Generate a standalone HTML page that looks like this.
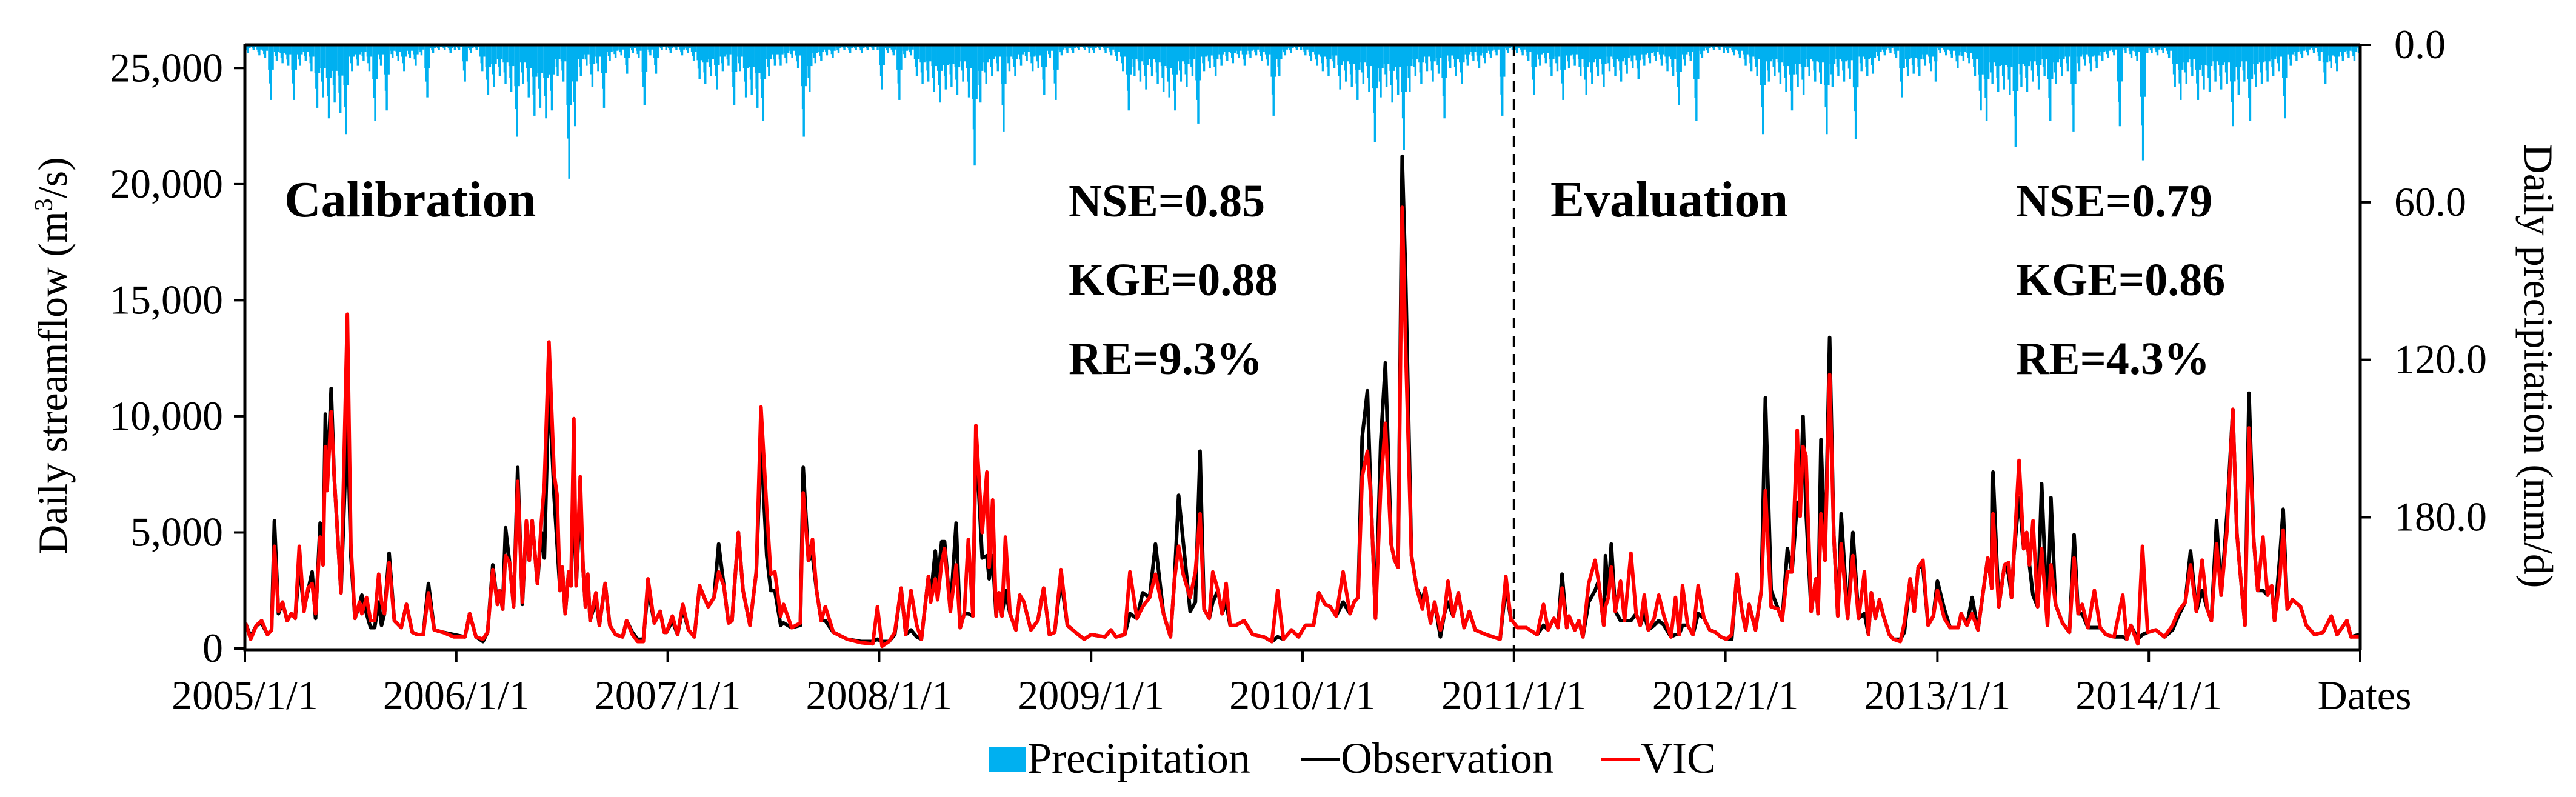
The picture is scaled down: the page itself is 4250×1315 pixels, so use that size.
<!DOCTYPE html>
<html><head><meta charset="utf-8">
<style>
html,body{margin:0;padding:0;background:#fff;}
svg{display:block;font-family:"Liberation Serif",serif;}
</style></head>
<body>
<svg id="chart" width="4250" height="1315" viewBox="0 0 4250 1315" xmlns="http://www.w3.org/2000/svg">
<g id="precip"></g>
<g id="lines"></g>
<g id="axes"></g>
<text x="469" y="357" font-size="84" font-weight="bold">Calibration</text>
<text x="1763" y="357" font-size="76" font-weight="bold">NSE=0.85</text>
<text x="1763" y="487" font-size="76" font-weight="bold">KGE=0.88</text>
<text x="1763" y="617" font-size="76" font-weight="bold">RE=9.3%</text>
<text x="2558" y="357" font-size="84" font-weight="bold">Evaluation</text>
<text x="3326" y="357" font-size="76" font-weight="bold">NSE=0.79</text>
<text x="3326" y="487" font-size="76" font-weight="bold">KGE=0.86</text>
<text x="3326" y="617" font-size="76" font-weight="bold">RE=4.3%</text>
<text transform="translate(110,587) rotate(-90)" text-anchor="middle" font-size="68">Daily streamflow (m<tspan font-size="42" dy="-24">3</tspan><tspan dy="24">/s)</tspan></text>
<text transform="translate(4165,604) rotate(90)" text-anchor="middle" font-size="68">Daily precipitation (mm/d)</text>
<text x="3901" y="1170" text-anchor="middle" font-size="68">Dates</text>
<g>
<rect x="1632" y="1233" width="60" height="40" fill="#00b0f0"/>
<text x="1695" y="1275" font-size="72">Precipitation</text>
<line x1="2147" y1="1253" x2="2210" y2="1253" stroke="#000" stroke-width="5"/>
<text x="2212" y="1275" font-size="72">Observation</text>
<line x1="2642" y1="1253" x2="2705" y2="1253" stroke="#ff0000" stroke-width="5"/>
<text x="2707" y="1275" font-size="72">VIC</text>
</g>
</svg>
<script>
// ---- data ----
const yearLabels = ["2005/1/1","2006/1/1","2007/1/1","2008/1/1","2009/1/1","2010/1/1","2011/1/1","2012/1/1","2013/1/1","2014/1/1"];
const leftTicks = [0,5000,10000,15000,20000,25000];
const leftTickLabels = ["0","5,000","10,000","15,000","20,000","25,000"];
const rightTicks = [0,60,120,180];
const rightTickLabels = ["0.0","60.0","120.0","180.0"];
const days = [1,10,20,29,39,46,51,58,65,73,80,87,94,102,109,116,122,130,135,139,142,149,154,166,177,183,190,198,202,210,217,224,231,236,241,249,258,270,279,289,298,308,317,327,342,361,380,388,399,411,419,428,436,440,445,450,457,464,471,479,486,491,496,505,512,517,525,534,539,544,548,553,559,563,568,572,579,584,588,592,596,606,612,622,630,640,652,659,669,678,688,696,707,717,724,
728,738,747,756,766,776,785,793,800,810,818,827,835,841,852,860,872,883,891,901,908,915,925,930,937,944,959,964,973,980,987,995,1002,1016,1040,1064,1084,1092,1100,1112,1122,1133,1141,1150,1160,1168,1180,1184,1192,1196,1203,1208,1218,1228,1235,1242,1249,1257,1262,1273,1281,1285,1291,1297,1302,1307,1313,1321,1331,1338,1345,1357,1369,1379,1389,1398,1409,1420,1434,1449,
1461,1485,1495,1504,1519,1528,1540,1550,1562,1572,1586,1598,1605,1612,1620,1632,1641,1649,1656,1665,1671,1680,1687,1694,1701,1711,1725,1740,1759,1773,1783,1793,1807,1819,1831,1845,1854,1865,1874,1884,1896,1908,1915,1922,1929,1938,1944,1952,1961,1969,1979,1985,1991,1998,2004,2014,2023,2033,2038,2047,2054,2064,2071,2077,2086,2095,2105,2114,2124,2143,2167,2177,2186,
2188,2197,2212,2231,2242,2250,2260,2267,2274,2282,2286,2296,2303,2310,2320,2331,2337,2346,2349,2354,2359,2366,2375,2382,2393,2402,2409,2416,2423,2433,2441,2450,2462,2470,2476,2482,2491,2500,2509,2519,2529,2539,2548,2558,2567,2576,2584,2591,2597,2608,2618,2625,2635,2647,2654,2663,2671,2680,2685,2690,2695,2704,2712,2716,2721,2728,2736,2743,2750,2756,2767,2776,2786,2796,2803,2808,2815,2822,2829,2839,2846,2858,2865,2875,2882,2889,2897,2906,
2915,2922,2934,2944,2958,2963,2973,2982,2992,3009,3016,3018,3028,3038,3045,3050,3054,3063,3071,3076,3081,3087,3095,3102,3112,3118,3126,3138,3150,3158,3165,3172,3182,3193,3203,3213,3227,3242,3249,3256,3268,3276,3285,3299,3314,3328,3338,3350,3359,3369,3379,3388,3395,3404,3412,3422,3432,3439,3444,3453,3460,3468,3475,3484,3492,3499,3504,3513,3519,3526,3535,3549,3559,3573,3588,3602,3612,3629,3636,3650];
const obs = [1100,500,1000,1100,600,800,5500,1500,2000,1200,1500,1300,3600,1700,2500,3300,1300,5400,3600,10100,7000,11200,7500,2400,10000,4000,1300,1900,2300,1500,900,900,2000,1000,1500,4100,1200,900,1900,700,600,600,2800,800,700,600,500,1500,500,300,700,3600,1900,2400,1700,5200,3700,1800,7800,1900,5400,3800,5500,2800,5000,3900,11500,6500,4500,2500,3500,1500,3300,2700,7500,2700,6500,3400,1800,3200,1200,2100,1000,2800,1000,600,500,1200,700,400,400,2600,1100,1600,700,
700,1200,600,1700,800,500,2700,2200,1800,2200,4500,2700,1100,1200,5000,2500,1000,3300,8900,4000,2500,2500,1000,1100,1000,900,1000,7800,3800,4000,2500,1200,1200,700,400,300,300,400,300,300,600,2600,600,800,500,400,3100,2200,4200,2800,4600,4600,1600,5400,900,1500,1500,1400,9100,3900,4000,3000,4000,1400,2400,1400,2500,1500,800,2300,2000,800,1200,2600,600,700,3000,1000,700,400,
600,500,800,500,600,1500,1300,2400,2200,4500,1500,500,3000,6600,4600,1600,2000,8500,1700,1300,2000,2500,1500,2000,1000,1000,1200,600,500,300,500,400,800,500,1000,1000,2400,1900,1800,1400,2000,1500,2000,2200,9100,11100,6500,1300,8900,12300,4500,3800,3500,21200,16000,4000,2600,2100,2600,1100,2000,500,1500,2000,1400,2400,900,1600,800,600,400,2700,1200,
1200,900,900,600,1000,800,1300,900,3200,900,1400,800,1200,500,2000,2500,2900,1000,4000,2200,4500,1600,1200,1200,1200,1500,1000,1500,800,1000,1200,1000,500,600,600,1000,1000,600,1500,1300,800,700,500,400,400,3200,1700,800,1900,800,2500,10800,2500,1700,1200,4300,3300,6300,5700,10000,6000,1600,3000,1500,9000,3800,13400,5000,1400,5800,1300,5000,1300,1500,600,2400,1300,2100,1400,600,400,400,700,3000,1600,3500,3500,1000,
1400,2900,1700,900,900,1500,1000,2200,800,3900,2600,7600,1800,3600,3200,2200,4000,6500,4300,5000,3600,2300,1800,7100,1000,6500,1900,1100,700,4900,1500,1500,900,900,900,600,500,500,400,1000,400,600,700,800,500,800,1400,2000,4200,1600,2500,1700,1200,5500,2300,5800,10300,5000,3500,1000,11000,4700,2500,2500,2300,2700,1200,3900,6000,1700,2100,1800,1000,600,700,1400,600,1200,500,600];
const vic = [1100,400,1000,1200,600,800,4400,1600,2000,1200,1500,1300,4400,1600,2600,2800,1500,4800,3600,8700,6800,10200,7500,2400,14400,4500,1300,2000,1500,2200,1200,1200,3200,2000,1500,3700,1200,900,1900,700,600,600,2400,800,700,500,500,1500,500,400,700,3400,1900,2500,1700,4000,3700,1800,7200,2000,5500,3800,5500,2800,5500,7100,13200,7500,6600,2500,3500,1500,3300,2700,9900,2700,7400,3400,1800,3200,1200,2400,1000,2800,1000,600,500,1200,600,300,300,3000,1100,1600,700,
700,1400,600,1900,800,500,2700,2200,1800,2200,3300,2700,1100,1200,5000,2500,1000,3300,10400,6000,3200,3300,1400,1900,1400,900,1100,6700,3800,4700,2500,1200,1800,700,400,250,200,1800,100,300,700,2600,600,2500,1000,400,3100,2000,3000,2100,3700,4300,1600,3600,900,1500,4700,1400,9600,5000,7600,3500,6400,1400,2400,1400,4800,1500,800,2300,2000,800,1200,2600,600,700,3400,1000,700,400,
600,500,800,500,600,3300,1300,1800,2200,3200,1500,500,3000,4400,3200,2200,3300,5800,1700,1300,3300,2500,1500,2800,1000,1000,1200,600,500,300,2500,400,800,500,1000,1000,2400,1900,1800,1400,3300,1500,2000,2200,7400,8500,6500,1300,7000,9700,4500,3800,3500,19000,13000,4000,2600,1700,2600,1100,2000,800,1500,2900,1400,2400,900,1600,800,600,400,3100,1200,
1200,900,900,600,1900,800,1300,900,2600,900,1400,800,1200,500,2800,3800,2900,1000,1800,2200,3500,1600,2900,1200,4100,1500,1000,2300,800,1300,2300,1400,500,2200,600,2700,1000,600,2700,1300,800,700,500,400,600,3200,1700,800,1900,800,2500,6800,1800,1700,1200,3300,3300,9400,5700,8700,8300,1600,3000,1500,5800,3800,11800,5000,1400,4500,1300,4000,1300,3300,600,2400,1300,2100,1400,600,400,300,1100,3000,1600,3500,3800,1000,
1400,2500,1300,900,900,1500,1000,1500,800,3900,2600,5800,1800,3600,3700,2200,4000,8100,4300,5000,3600,5500,1800,4300,1000,3600,1900,1100,700,3900,1500,1900,900,2500,900,600,500,2300,400,1000,200,4400,700,800,500,1000,1600,2000,3600,1600,3800,1700,1200,4500,2300,5100,10300,5000,3500,1000,9500,4700,2500,4800,2300,2700,1200,3000,5100,1700,2100,1800,1000,600,700,1400,600,1200,500,500];
// precipitation (mm/d), 10-day bin maxima, one row per year 2005..2014
const precipByYear = [
[3,2,4,5,21,6,7,8,21,8,6,10,24,20,28,22,26,34,10,8,6,10,29,8,25,5,6,10,5,8,4,20,3,2,2,3,2],
[2,14,3,2,10,19,16,12,15,18,35,15,20,27,24,28,25,12,14,51,31,12,8,16,10,24,6,5,4,11,3,5,23,4,11,2,2],
[3,2,4,3,6,13,15,12,17,10,8,23,10,20,19,24,29,12,8,8,7,5,9,35,18,7,6,4,5,3,2,3,2,3,2,2,2],
[17,3,4,21,5,4,12,15,14,18,22,17,16,19,14,20,46,22,15,12,10,33,10,12,8,6,10,9,19,5,21,4,3,3,2,2,3],
[3,2,3,4,6,10,25,12,14,17,12,15,18,20,25,14,16,12,30,10,9,12,8,6,7,5,8,5,4,6,8,27,12,4,3,2,2],
[4,6,8,10,12,9,17,14,16,21,15,18,37,20,16,22,19,40,18,12,15,10,14,11,28,9,12,15,8,6,9,7,5,4,27,3,2],
[3,4,6,19,8,7,12,10,21,9,8,12,19,15,12,16,10,12,14,11,9,13,8,7,6,8,10,12,23,8,6,29,5,3,2,2,3],
[3,4,5,8,10,12,34,14,12,15,18,25,16,19,12,14,15,34,16,12,14,13,36,10,12,11,6,4,3,5,20,12,11,12,8,10,14],
[3,4,5,9,6,7,12,25,29,15,18,17,19,39,16,18,14,17,12,29,15,12,10,33,10,8,10,9,6,5,4,31,3,5,6,44,3],
[3,4,3,5,16,21,15,12,21,17,18,14,17,15,31,19,14,29,16,15,14,12,10,28,8,6,5,4,3,6,15,9,10,6,5,6,3]
];
const firstYear = 2005;
const divideDate = "2011-01-01";

// ---- scales ----
const X0=404, X1=3894, Y0=74, Y1=1070;
const T0=Date.UTC(2005,0,1), T1=Date.UTC(2015,0,1), DAY=86400000;
const totalDays=(T1-T0)/DAY;
const xDay = d => X0 + (X1-X0)*d/totalDays;
const yFlow = v => Y1 - (Y1-Y0)*v/26000;
const yRain = v => Y0 + (Y1-Y0)*v/230;
const NS="http://www.w3.org/2000/svg";
function mk(tag, attrs, parent){const e=document.createElementNS(NS,tag);for(const k in attrs)e.setAttribute(k,attrs[k]);parent.appendChild(e);return e;}

// precipitation bars: background fill at half of bin max, plus a spike at bin max
const pg=document.getElementById('precip');
precipByYear.forEach((row,yi)=>{
  const ys=(Date.UTC(firstYear+yi,0,1)-T0)/DAY, ye=(Date.UTC(firstYear+yi+1,0,1)-T0)/DAY;
  row.forEach((v,j)=>{
    const d0=ys+j*10, d1=Math.min(ys+j*10+10,ye);
    if(d0>=ye) return;
    const base=mk('rect',{x:xDay(d0),y:Y0,width:Math.max(0.5,xDay(d1)-xDay(d0)),height:yRain(v*0.45)-Y0,fill:'#00b0f0'},pg);
    
    
    const dm=(d0+d1)/2;
    const spike=mk('rect',{x:xDay(dm-1.8),y:Y0,width:xDay(3.6)-X0,height:yRain(v)-Y0,fill:'#00b0f0'},pg);
    
    
    const mid=mk('rect',{x:xDay(d0+1.5),y:Y0,width:xDay(2.5)-X0,height:yRain(v*0.7)-Y0,fill:'#00b0f0'},pg);
    
    
  });
});

// lines
const lg=document.getElementById('lines');
function path(vals){return vals.map((v,i)=>(i?'L':'M')+xDay(days[i]).toFixed(1)+','+yFlow(v).toFixed(1)).join('');}
const po=mk('path',{d:path(obs),fill:'none',stroke:'#000',"stroke-width":6,"stroke-linejoin":"round"},lg);


const pv=mk('path',{d:path(vic),fill:'none',stroke:'#ff0000',"stroke-width":6,"stroke-linejoin":"round"},lg);



// axes
const ag=document.getElementById('axes');
const dd=(Date.parse(divideDate)-T0)/DAY;
const dl=mk('line',{x1:xDay(dd),y1:Y0,x2:xDay(dd),y2:Y1,stroke:'#000',"stroke-width":4,"stroke-dasharray":"18 12"},ag);


const frame=mk('path',{d:`M${X0},${Y0}L${X1},${Y0}M${X0},${Y0-2}L${X0},${Y1+2}L${X1},${Y1+2}M${X1},${Y0-2}L${X1},${Y1+2}`,fill:'none',stroke:'#000',"stroke-width":5},ag);


leftTicks.forEach((v,i)=>{
  const y=yFlow(v);
  const t=mk('line',{x1:X0-18,y1:y,x2:X0,y2:y,stroke:'#000',"stroke-width":4},ag);
  
  
  const l=mk('text',{x:X0-36,y:y+22,"text-anchor":"end","font-size":68},ag);
  l.textContent=leftTickLabels[i];
  
  
});
rightTicks.forEach((v,i)=>{
  const y=yRain(v);
  const t=mk('line',{x1:X1,y1:y,x2:X1+18,y2:y,stroke:'#000',"stroke-width":4},ag);
  
  
  const l=mk('text',{x:X1+56,y:y+22,"font-size":68},ag);
  l.textContent=rightTickLabels[i];
  
  
});
for(let yi=0;yi<=10;yi++){
  const d=(Date.UTC(firstYear+yi,0,1)-T0)/DAY, x=xDay(d);
  const t=mk('line',{x1:x,y1:Y1,x2:x,y2:Y1+22,stroke:'#000',"stroke-width":4},ag);
  
  
  if(yi<yearLabels.length){
    const l=mk('text',{x:x,y:1170,"text-anchor":"middle","font-size":68},ag);
    l.textContent=yearLabels[yi];
    
    
  }
}
</script>
</body></html>
